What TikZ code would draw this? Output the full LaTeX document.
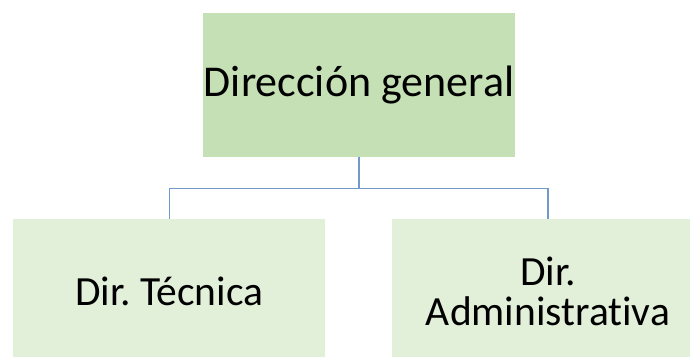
\documentclass[tikz,border=0pt]{standalone}
\usepackage{fontspec}
\setmainfont{Carlito}[RawFeature=-liga]
\usepackage{tikz}
\usetikzlibrary{positioning}
\definecolor{mainfill}{HTML}{C5E0B4}
\definecolor{subfill}{HTML}{E2F0D9}
\definecolor{linkblue}{HTML}{6E9BCB}
\frenchspacing

\begin{document}
\begin{tikzpicture}
    [
    x=1pt, y=1pt,
    box/.style={inner sep=0pt, minimum width=312pt, minimum height=143.4pt},
    mainbox/.style={box, fill=mainfill, font=\fontsize{44}{50}\selectfont},
    subbox/.style={box, fill=subfill, align=center, font=\fontsize{41.5}{40}\selectfont},
    link/.style={draw=linkblue, line width=1.1pt},
    ]
    \clip (0,0) rectangle (690,356);
    \node (dg) at (359,271) [mainbox] {Dirección general};
    \node (tec) at (169.2,65) [subbox] {Dir. Técnica};
    \node (adm) at (548,65) [subbox] {Dir.\\Administrativa};
    \coordinate (bus) at ([yshift=-31.5pt]dg.south);
    \draw [link] (dg.south) -- (bus) -| (tec.north);
    \draw [link] (bus) -| (adm.north);
\end{tikzpicture}
\end{document}
